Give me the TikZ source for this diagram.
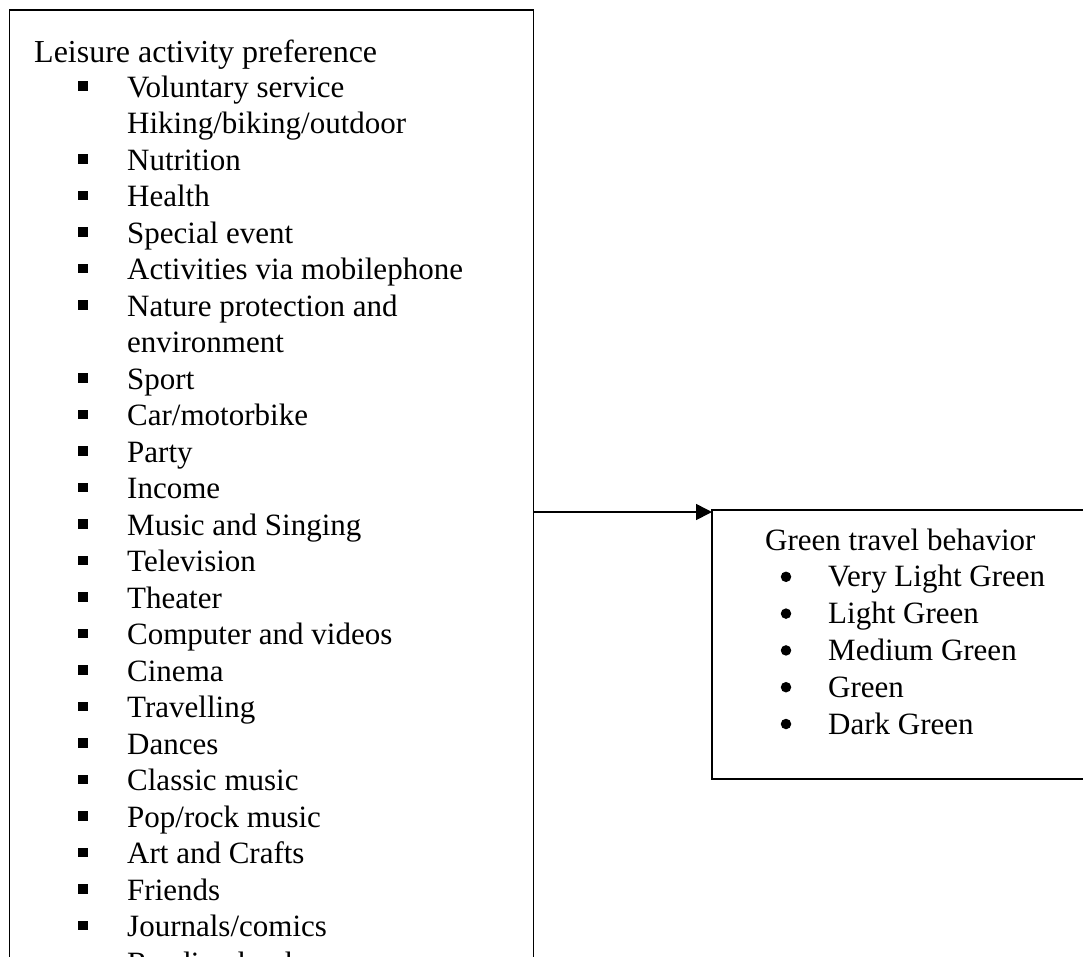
\documentclass[tikz,border=0pt]{standalone}
\usepackage{fontspec}
\setmainfont{Liberation Serif}
\usetikzlibrary{positioning,arrows.meta}
\newcommand{\itemfont}{\fontsize{31}{36.5}\selectfont}
\newcommand{\headfont}{\fontsize{32}{36}\selectfont}
\tikzset{
  frame/.style={draw, line width=1.6pt, inner sep=0pt, outer sep=0pt, anchor=north west},
  entry/.style={anchor=base west, inner sep=0pt, font=\itemfont},
  sqbullet/.style={fill, minimum size=9.5pt, inner sep=0pt},
  dotbullet/.style={circle, fill, minimum size=10.5pt, inner sep=0pt}
}

\begin{document}
\begin{tikzpicture}[x=1pt, y=1pt]
  \useasboundingbox (0,0) rectangle (1083,-956);
  \clip (0,0) rectangle (1083,-956);

  % the two boxes, both run past the page
  \node[frame, minimum width=524pt, minimum height=1000pt] (leisure) at (9.5,-10) {};
  \node[frame, minimum width=400pt, minimum height=269pt] (green) at (712,-510) {};

  \coordinate (tip) at ([yshift=-2pt]green.north west);
  \draw[-{Triangle[length=16pt, width=16pt]}, line width=1.6pt] (leisure.east |- tip) -- (tip);

  % left box
  \node[entry, font=\headfont] (lhead) at (34,-62) {Leisure activity preference};
  \foreach \b/\t [count=\i] in {1/Voluntary service, 0/{Hiking/biking/outdoor}, 1/Nutrition,
      1/Health, 1/Special event, 1/Activities via mobilephone, 1/Nature protection and,
      0/environment, 1/Sport, 1/{Car/motorbike}, 1/Party, 1/Income, 1/Music and Singing,
      1/Television, 1/Theater, 1/Computer and videos, 1/Cinema, 1/Travelling, 1/Dances,
      1/Classic music, 1/{Pop/rock music}, 1/Art and Crafts, 1/Friends, 1/{Journals/comics},
      1/Reading books} {
    \node[entry] (item\i) at (127, {-97-36.5*(\i-1)}) {\t};
    \ifnum\b=1
      \node[sqbullet] at ([xshift=-44pt, yshift=11pt]item\i.base west) {};
    \fi
  }

  % right box
  \node[entry] (ghead) at (765,-550) {Green travel behavior};
  \foreach \t [count=\i] in {Very Light Green, Light Green, Medium Green, Green, Dark Green} {
    \node[entry] (gitem\i) at (828, {-550-36.8*\i}) {\t};
    \node[dotbullet] at ([xshift=-42pt, yshift=10pt]gitem\i.base west) {};
  }
\end{tikzpicture}
\end{document}
